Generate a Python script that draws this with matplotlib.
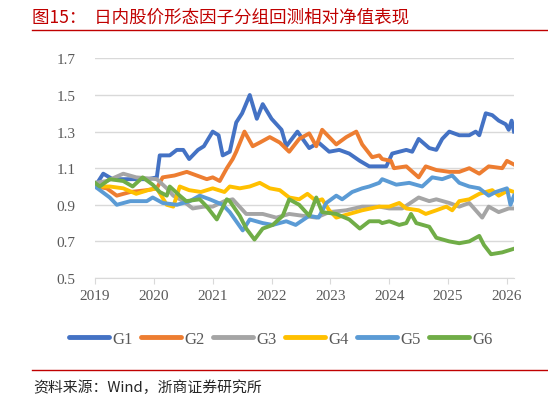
import matplotlib.pyplot as plt
from matplotlib.lines import Line2D

# data (decimal year, relative NAV)
g1_t = [2019.0, 2019.14, 2019.3, 2019.6, 2019.9, 2020.05, 2020.1, 2020.27, 2020.39, 2020.5, 2020.6,
        2020.75, 2020.85, 2021.0, 2021.1, 2021.17, 2021.29, 2021.4, 2021.5, 2021.63, 2021.75, 2021.85,
        2022.0, 2022.17, 2022.25, 2022.44, 2022.64, 2022.8, 2022.98, 2023.15, 2023.32, 2023.5,
        2023.66, 2023.83, 2023.95, 2024.05, 2024.29, 2024.39, 2024.5, 2024.68, 2024.8, 2024.9,
        2025.02, 2025.19, 2025.36, 2025.47, 2025.53, 2025.64, 2025.75, 2025.86, 2025.98, 2026.03,
        2026.08, 2026.12]
g1_v = [1.00, 1.07, 1.04, 1.04, 1.04, 1.05, 1.17, 1.17, 1.20, 1.20, 1.15,
        1.20, 1.22, 1.30, 1.28, 1.17, 1.19, 1.35, 1.40, 1.50, 1.37, 1.45,
        1.37, 1.31, 1.22, 1.30, 1.21, 1.24, 1.19, 1.20, 1.18, 1.14,
        1.11, 1.11, 1.11, 1.18, 1.20, 1.19, 1.26, 1.21, 1.20, 1.26,
        1.30, 1.28, 1.28, 1.30, 1.28, 1.40, 1.39, 1.36, 1.34, 1.31,
        1.36, 1.30]

g2_t = [2019.0, 2019.2, 2019.37, 2019.6, 2019.88, 2020.05, 2020.15, 2020.35, 2020.56, 2020.73, 2020.9,
        2021.0, 2021.12, 2021.24, 2021.34, 2021.4, 2021.54, 2021.68, 2021.8, 2021.97, 2022.14,
        2022.3, 2022.47, 2022.64, 2022.76, 2022.86, 2023.1, 2023.27, 2023.44, 2023.54, 2023.71,
        2023.83, 2023.88, 2024.03, 2024.08, 2024.29, 2024.5, 2024.62, 2024.8, 2025.02, 2025.19,
        2025.36, 2025.53, 2025.69, 2025.92, 2026.0, 2026.12]
g2_v = [1.00, 0.99, 0.95, 0.97, 0.98, 0.99, 1.05, 1.06, 1.08, 1.06, 1.04,
        1.05, 1.03, 1.10, 1.15, 1.19, 1.30, 1.22, 1.24, 1.27, 1.24,
        1.19, 1.26, 1.29, 1.22, 1.31, 1.23, 1.27, 1.30, 1.23, 1.16,
        1.17, 1.15, 1.14, 1.10, 1.11, 1.05, 1.11, 1.09, 1.08, 1.08,
        1.10, 1.07, 1.11, 1.10, 1.14, 1.12]

g3_t = [2019.0, 2019.2, 2019.48, 2019.7, 2020.05, 2020.22, 2020.33, 2020.5, 2020.66, 2020.85, 2021.0,
        2021.2, 2021.34, 2021.57, 2021.85, 2022.08, 2022.3, 2022.53, 2022.76, 2022.98, 2023.27,
        2023.54, 2023.83, 2024.0, 2024.22, 2024.5, 2024.68, 2024.8, 2025.02, 2025.19, 2025.36,
        2025.58, 2025.69, 2025.86, 2026.03, 2026.12]
g3_v = [1.02, 1.03, 1.07, 1.05, 1.04, 0.99, 0.95, 0.92, 0.88, 0.89, 0.89,
        0.92, 0.93, 0.85, 0.85, 0.83, 0.85, 0.84, 0.83, 0.86, 0.87,
        0.89, 0.89, 0.88, 0.88, 0.94, 0.92, 0.93, 0.91, 0.89, 0.91,
        0.83, 0.89, 0.86, 0.88, 0.88]

g4_t = [2019.0, 2019.25, 2019.48, 2019.7, 2019.9, 2020.05, 2020.22, 2020.33, 2020.44, 2020.6, 2020.8,
        2021.0, 2021.2, 2021.29, 2021.46, 2021.63, 2021.8, 2021.97, 2022.14, 2022.3, 2022.47,
        2022.61, 2022.76, 2022.86, 2022.98, 2023.1, 2023.32, 2023.54, 2023.83, 2024.0, 2024.17,
        2024.29, 2024.5, 2024.62, 2024.8, 2024.97, 2025.07, 2025.19, 2025.36, 2025.53, 2025.75,
        2025.86, 2026.03, 2026.12]
g4_v = [1.00, 1.00, 0.99, 0.96, 0.98, 0.99, 0.90, 0.89, 1.00, 0.98, 0.97,
        0.99, 0.97, 1.00, 0.99, 1.00, 1.02, 0.99, 0.98, 0.94, 0.93,
        0.96, 0.92, 0.93, 0.87, 0.83, 0.85, 0.87, 0.89, 0.89, 0.91,
        0.88, 0.87, 0.85, 0.87, 0.89, 0.87, 0.92, 0.93, 0.96, 0.98,
        0.95, 0.98, 0.97]

g5_t = [2019.0, 2019.25, 2019.37, 2019.6, 2019.88, 2019.98, 2020.15, 2020.39, 2020.61, 2020.78, 2020.95,
        2021.17, 2021.29, 2021.4, 2021.51, 2021.63, 2021.85, 2022.02, 2022.25, 2022.41, 2022.64,
        2022.8, 2022.93, 2023.1, 2023.2, 2023.37, 2023.54, 2023.66, 2023.83, 2023.88, 2024.12,
        2024.34, 2024.56, 2024.73, 2024.9, 2025.07, 2025.19, 2025.36, 2025.53, 2025.69, 2025.81,
        2026.0, 2026.06, 2026.12]
g5_v = [1.00, 0.94, 0.90, 0.92, 0.92, 0.94, 0.91, 0.90, 0.92, 0.95, 0.93,
        0.90, 0.86, 0.81, 0.76, 0.82, 0.80, 0.79, 0.81, 0.79, 0.84,
        0.83, 0.91, 0.95, 0.93, 0.97, 0.99, 1.00, 1.02, 1.04, 1.01,
        1.02, 1.00, 1.05, 1.04, 1.06, 1.02, 1.00, 0.99, 0.95, 0.97,
        0.99, 0.90, 0.95]

g6_t = [2019.0, 2019.08, 2019.25, 2019.48, 2019.64, 2019.81, 2019.98, 2020.1, 2020.22, 2020.27, 2020.44,
        2020.55, 2020.78, 2020.9, 2021.07, 2021.24, 2021.29, 2021.46, 2021.57, 2021.71, 2021.85,
        2022.02, 2022.19, 2022.3, 2022.47, 2022.64, 2022.76, 2022.86, 2023.1, 2023.32, 2023.5,
        2023.66, 2023.83, 2023.88, 2024.0, 2024.17, 2024.29, 2024.37, 2024.46, 2024.68, 2024.8,
        2025.02, 2025.19, 2025.36, 2025.53, 2025.61, 2025.73, 2025.92, 2026.12]
g6_v = [1.02, 1.00, 1.04, 1.03, 1.00, 1.05, 1.01, 0.97, 0.95, 1.00, 0.95,
        0.92, 0.93, 0.89, 0.82, 0.93, 0.92, 0.84, 0.77, 0.71, 0.77,
        0.79, 0.84, 0.93, 0.90, 0.84, 0.94, 0.86, 0.85, 0.82, 0.77,
        0.81, 0.81, 0.80, 0.81, 0.79, 0.80, 0.85, 0.80, 0.78, 0.72,
        0.70, 0.69, 0.70, 0.73, 0.68, 0.63, 0.64, 0.66]

names = ['G1', 'G2', 'G3', 'G4', 'G5', 'G6']
colors = ['#4472C4', '#ED7D31', '#A5A5A5', '#FFC000', '#5B9BD5', '#70AD47']
years = list(range(2019, 2027))
yticks = [0.5, 0.7, 0.9, 1.1, 1.3, 1.5, 1.7]

series = [(g1_t, g1_v), (g2_t, g2_v), (g3_t, g3_v), (g4_t, g4_v), (g5_t, g5_v), (g6_t, g6_v)]

fig = plt.figure(figsize=(5.48, 4.02), dpi=100)
ax = fig.add_axes([95 / 548, 1 - 279 / 402, 419 / 548, (279 - 59.4) / 402])

for (t, v), c, n in zip(series, colors, names):
    ax.plot(t, v, color=c, lw=2.8, label=n, solid_joinstyle='round')

ax.set_xlim(2019, 2026.12)
ax.set_ylim(0.5, 1.7)
ax.set_yticks(yticks)
ax.set_yticklabels([f'{y:.1f}' for y in yticks])
ax.set_xticks(years)
ax.set_xticklabels([str(y) for y in years])
ax.grid(axis='y', color='#D9D9D9', lw=1)
ax.set_axisbelow(True)
for s in ['top', 'right', 'left']:
    ax.spines[s].set_visible(False)
ax.spines['bottom'].set_color('#D9D9D9')
ax.tick_params(axis='y', length=0, pad=14, labelsize=11, colors='#595959')
ax.tick_params(axis='x', length=4, color='#D9D9D9', pad=4, labelsize=11, colors='#595959')
for lab in ax.get_xticklabels() + ax.get_yticklabels():
    lab.set_family('Liberation Serif')

handles = [Line2D([], [], color=c, lw=3.5, solid_capstyle='round') for c in colors]
fig.legend(handles, names, loc='center', bbox_to_anchor=(0.513, 1 - 340 / 402), ncol=6,
           frameon=False, handlelength=2.4, handletextpad=0.2, columnspacing=0.5,
           prop={'family': 'Liberation Serif', 'size': 12}, labelcolor='#595959')

# title, rules and source
fig.text(32 / 548, 1 - 17 / 402, '图15：  日内股价形态因子分组回测相对净值表现', color='#C00000',
         fontsize=12.6, family=['Noto Sans CJK SC', 'DejaVu Sans'], va='center', ha='left')
fig.add_artist(Line2D([32 / 548, 1], [1 - 31 / 402] * 2, color='#C00000', lw=1))
fig.add_artist(Line2D([32 / 548, 1], [1 - 371 / 402] * 2, color='#C00000', lw=1))
fig.text(33 / 548, 1 - 388 / 402, '资料来源：Wind，浙商证券研究所', color='#262626',
         fontsize=10.7, family=['Noto Sans CJK SC', 'DejaVu Sans'], va='center', ha='left')

fig.savefig('out.png', dpi=100)
